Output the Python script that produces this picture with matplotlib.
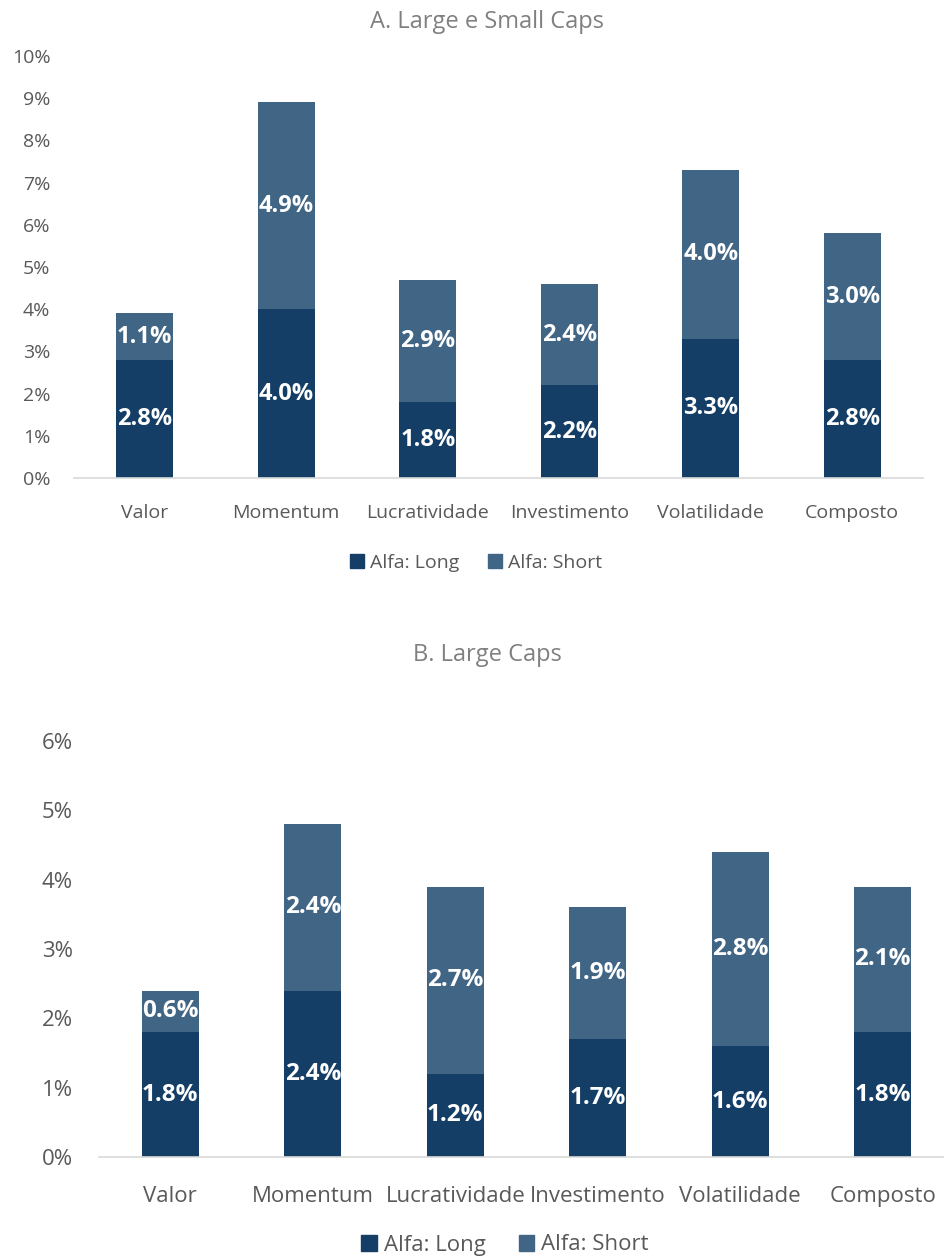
import matplotlib.pyplot as plt
from matplotlib.patches import Patch

plt.rcParams["font.family"] = ["Open Sans", "DejaVu Sans"]

categories = ["Valor", "Momentum", "Lucratividade", "Investimento", "Volatilidade", "Composto"]

# painel A: large e small caps
long_a = [2.8, 4.0, 1.8, 2.2, 3.3, 2.8]
short_a = [1.1, 4.9, 2.9, 2.4, 4.0, 3.0]

# painel B: large caps
long_b = [1.8, 2.4, 1.2, 1.7, 1.6, 1.8]
short_b = [0.6, 2.4, 2.7, 1.9, 2.8, 2.1]

DARK = "#143E66"
LIGHT = "#416585"
TXT = "#595959"

fig = plt.figure(figsize=(9.44, 12.59), dpi=100)
W, H = 944, 1259


def panel(rect, longs, shorts, ymax, title, title_y, legend_pos, fs_tick, fs_lab, ypad, xpad):
    l, r, t, b = rect
    ax = fig.add_axes([l / W, 1 - b / H, (r - l) / W, (b - t) / H])
    x = range(len(categories))
    ax.bar(x, longs, width=0.4, color=DARK, label="Alfa: Long")
    ax.bar(x, shorts, width=0.4, bottom=longs, color=LIGHT, label="Alfa: Short")
    for i, (lo, sh) in enumerate(zip(longs, shorts)):
        ax.text(i, lo / 2, f"{lo:.1f}%", ha="center", va="center",
                color="white", fontsize=fs_lab, fontweight="bold")
        ax.text(i, lo + sh / 2, f"{sh:.1f}%", ha="center", va="center",
                color="white", fontsize=fs_lab, fontweight="bold")
    ax.set_xlim(-0.5, len(categories) - 0.5)
    ax.set_ylim(0, ymax)
    ax.set_yticks(range(ymax + 1))
    ax.set_yticklabels([f"{v}%" for v in range(ymax + 1)])
    ax.set_xticks(list(x))
    ax.set_xticklabels(categories)
    for s in ["top", "right", "left"]:
        ax.spines[s].set_visible(False)
    ax.spines["bottom"].set_color("#D9D9D9")
    ax.spines["bottom"].set_linewidth(1.2)
    ax.tick_params(axis="both", length=0, labelsize=fs_tick, colors=TXT)
    ax.tick_params(axis="x", pad=xpad)
    ax.tick_params(axis="y", pad=ypad)
    fig.text(487 / W, 1 - title_y / H, title, ha="center", va="center",
             fontsize=17, color="#808080")
    handles = [Patch(color=DARK, label="Alfa: Long"), Patch(color=LIGHT, label="Alfa: Short")]
    fig.legend(handles=handles, loc="center", bbox_to_anchor=(legend_pos[0] / W, 1 - legend_pos[1] / H),
               ncol=2, frameon=False, fontsize=fs_tick, labelcolor=TXT,
               handlelength=0.7, handleheight=0.7, handletextpad=0.3, columnspacing=1.5)
    return ax


panel((74, 923, 56, 478), long_a, short_a, 10, "A. Large e Small Caps", 22, (476, 563), 14, 17, 17, 19)
panel((99, 954, 741, 1157), long_b, short_b, 6, "B. Large Caps", 655, (505, 1245), 16, 17.5, 19, 21)

fig.savefig("out.png", dpi=100)
